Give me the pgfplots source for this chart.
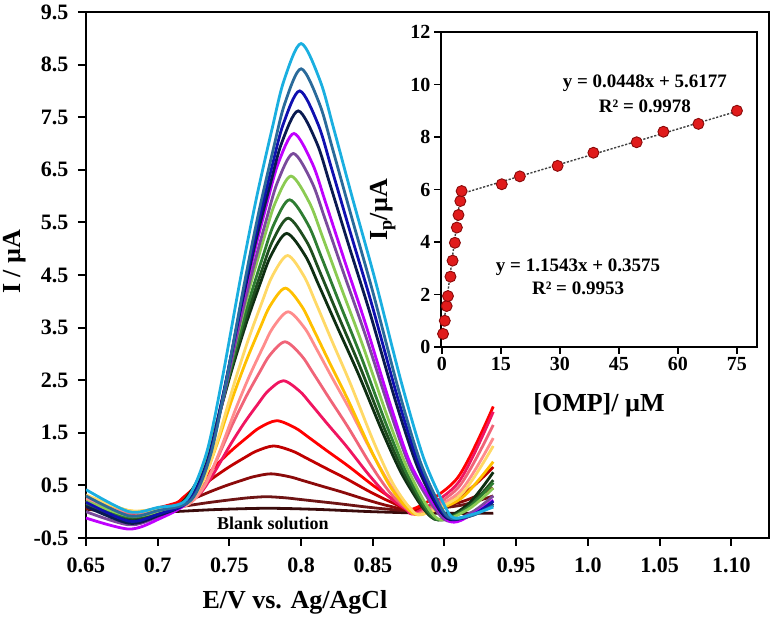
\documentclass[border=0pt]{standalone}
\usepackage{fontspec}
\setmainfont{Liberation Serif}
\usepackage{pgfplots}
\pgfplotsset{compat=1.18}
\definecolor{c1}{HTML}{3B0B0B}
\definecolor{c2}{HTML}{6E1414}
\definecolor{c3}{HTML}{8B0A0A}
\definecolor{c4}{HTML}{C00000}
\definecolor{c5}{HTML}{FF0000}
\definecolor{c6}{HTML}{F01560}
\definecolor{c7}{HTML}{F06478}
\definecolor{c8}{HTML}{FF8C8C}
\definecolor{c9}{HTML}{FFC000}
\definecolor{c10}{HTML}{FFD966}
\definecolor{c11}{HTML}{0E2E12}
\definecolor{c12}{HTML}{1F4E1F}
\definecolor{c13}{HTML}{2E7D32}
\definecolor{c14}{HTML}{8BCB52}
\definecolor{c15}{HTML}{7A4A9C}
\definecolor{c16}{HTML}{C000FF}
\definecolor{c17}{HTML}{0A1A50}
\definecolor{c18}{HTML}{1010B0}
\definecolor{c19}{HTML}{2A6A9A}
\definecolor{c20}{HTML}{1AAFE0}
\definecolor{mk}{HTML}{E01B1B}
\definecolor{mkd}{HTML}{8A0A0A}
\begin{document}
\begin{tikzpicture}
\path[use as bounding box] (-86pt,-80pt) rectangle (688pt,538pt);
\begin{axis}[
  at={(0pt,0pt)}, anchor=south west,
  scale only axis, width=683pt, height=526pt,
  xmin=0.65, xmax=1.1263, ymin=-0.5, ymax=9.5,
  axis line style={line width=2.4pt},
  tick style={line width=2pt, black},
  tick align=outside, major tick length=8pt,
  xtick pos=left, ytick pos=left,
  xtick={0.65,0.7,0.75,0.8,0.85,0.9,0.95,1.0,1.05,1.10},
  xticklabels={0.65,0.7,0.75,0.8,0.85,0.9,0.95,1.0,1.05,1.10},
  ytick={-0.5,0.5,1.5,2.5,3.5,4.5,5.5,6.5,7.5,8.5,9.5},
  yticklabels={-0.5,0.5,1.5,2.5,3.5,4.5,5.5,6.5,7.5,8.5,9.5},
  tick label style={font=\bfseries\fontsize{22}{22}\selectfont},
  yticklabel style={xshift=-6pt},
  xticklabel style={yshift=-8pt},
  xlabel={E/V vs. Ag/AgCl},
  xlabel style={at={(axis description cs:0.306,-0.1331)}, anchor=base, font=\bfseries\fontsize{26}{26}\selectfont},
  ylabel={I / µA},
  ylabel style={at={(axis description cs:-0.0952,0.525)}, anchor=base, font=\bfseries\fontsize{26}{26}\selectfont},
  every axis plot/.append style={line width=2.8pt, smooth},
  clip=true,
]
\addplot[c1] coordinates {(0.65,0.05)(0.68,-0.03)(0.71,0.0)(0.74,0.04)(0.776,0.065)(0.81,0.045)(0.85,0.0)(0.89,-0.03)(0.934,-0.03)};
\addplot[c2] coordinates {(0.65,0.06)(0.68,-0.03)(0.704,0.064)(0.710,0.078)(0.721,0.116)(0.734,0.168)(0.745,0.207)(0.756,0.243)(0.764,0.266)(0.776,0.285)(0.789,0.264)(0.798,0.237)(0.811,0.198)(0.826,0.153)(0.844,0.094)(0.859,0.052)(0.878,0.02)(0.911,0.12)(0.934,0.30)};
\addplot[c3] coordinates {(0.65,0.07)(0.68,-0.03)(0.707,0.090)(0.713,0.130)(0.724,0.238)(0.737,0.385)(0.748,0.499)(0.759,0.599)(0.767,0.666)(0.779,0.72)(0.792,0.664)(0.801,0.594)(0.814,0.489)(0.829,0.37)(0.847,0.216)(0.862,0.104)(0.878,0.03)(0.911,0.18)(0.934,0.45)};
\addplot[c4] coordinates {(0.65,0.08)(0.68,-0.03)(0.709,0.122)(0.715,0.194)(0.726,0.386)(0.739,0.65)(0.750,0.854)(0.761,1.034)(0.769,1.154)(0.781,1.25)(0.794,1.152)(0.803,1.029)(0.816,0.844)(0.831,0.635)(0.849,0.364)(0.864,0.168)(0.878,0.04)(0.911,0.30)(0.934,0.85)};
\addplot[c5] coordinates {(0.65,0.10)(0.68,-0.03)(0.711,0.151)(0.717,0.252)(0.728,0.520)(0.741,0.89)(0.752,1.176)(0.763,1.428)(0.771,1.596)(0.783,1.73)(0.796,1.592)(0.805,1.419)(0.818,1.159)(0.833,0.865)(0.851,0.484)(0.866,0.208)(0.878,0.05)(0.909,0.64)(0.934,2.0)};
\addplot[c6] coordinates {(0.65,0.15)(0.68,-0.05)(0.70,0.0)(0.7172,0.099)(0.7295,0.343)(0.7392,0.733)(0.7506,1.27)(0.7603,1.685)(0.7700,2.051)(0.7770,2.295)(0.7876,2.49)(0.7990,2.291)(0.8070,2.042)(0.8184,1.668)(0.8316,1.245)(0.8474,0.697)(0.8606,0.299)(0.873,0.05)(0.880,-0.02)(0.9097,0.556)(0.934,1.9)};
\addplot[c7] coordinates {(0.65,0.20)(0.68,-0.02)(0.70,0.02)(0.7184,0.114)(0.7307,0.432)(0.7404,0.940)(0.7518,1.64)(0.7615,2.181)(0.7712,2.658)(0.7782,2.976)(0.7888,3.23)(0.8002,2.97)(0.8082,2.645)(0.8196,2.158)(0.8328,1.605)(0.8486,0.89)(0.8618,0.37)(0.8742,0.045)(0.882,-0.03)(0.9101,0.474)(0.934,1.65)};
\addplot[c8] coordinates {(0.65,0.25)(0.68,0.0)(0.70,0.03)(0.7206,0.125)(0.7329,0.50)(0.7426,1.10)(0.754,1.925)(0.7637,2.563)(0.7734,3.125)(0.7804,3.50)(0.791,3.80)(0.8024,3.494)(0.8104,3.112)(0.8218,2.539)(0.835,1.89)(0.8508,1.05)(0.864,0.438)(0.8764,0.056)(0.883,-0.04)(0.9111,0.392)(0.934,1.4)};
\addplot[c9] coordinates {(0.65,0.30)(0.68,0.02)(0.70,0.05)(0.7186,0.134)(0.7309,0.554)(0.7406,1.226)(0.752,2.15)(0.7617,2.864)(0.7714,3.494)(0.7784,3.914)(0.789,4.25)(0.8004,3.908)(0.8084,3.48)(0.8198,2.838)(0.833,2.11)(0.8488,1.168)(0.862,0.484)(0.8744,0.056)(0.884,-0.05)(0.9115,0.25)(0.934,0.95)};
\addplot[c10] coordinates {(0.65,0.32)(0.68,0.02)(0.70,0.06)(0.7202,0.146)(0.7325,0.628)(0.7422,1.40)(0.7536,2.46)(0.7633,3.279)(0.7730,4.002)(0.7800,4.484)(0.7906,4.87)(0.802,4.478)(0.810,3.988)(0.8214,3.253)(0.8346,2.42)(0.8504,1.342)(0.8636,0.558)(0.876,0.068)(0.885,-0.05)(0.912,0.34)(0.934,1.25)};
\addplot[c11] coordinates {(0.65,0.10)(0.68,-0.15)(0.70,-0.05)(0.7164,0.155)(0.7293,0.679)(0.7394,1.517)(0.7514,2.67)(0.7615,3.561)(0.7716,4.347)(0.779,4.871)(0.790,5.29)(0.803,4.862)(0.812,4.327)(0.825,3.525)(0.840,2.615)(0.858,1.438)(0.873,0.582)(0.893,-0.14)(0.9158,0.127)(0.934,0.75)};
\addplot[c12] coordinates {(0.65,0.12)(0.68,-0.12)(0.70,-0.03)(0.7174,0.161)(0.7303,0.714)(0.7404,1.598)(0.7524,2.815)(0.7625,3.755)(0.7726,4.585)(0.780,5.138)(0.791,5.58)(0.804,5.129)(0.813,4.565)(0.826,3.719)(0.841,2.76)(0.859,1.519)(0.874,0.617)(0.893,-0.14)(0.9158,0.08)(0.934,0.6)};
\addplot[c13] coordinates {(0.65,0.15)(0.68,-0.10)(0.70,0.0)(0.7184,0.168)(0.7313,0.756)(0.7414,1.696)(0.7534,2.99)(0.7635,3.99)(0.7736,4.872)(0.781,5.46)(0.792,5.93)(0.805,5.451)(0.814,4.852)(0.827,3.953)(0.842,2.935)(0.860,1.617)(0.875,0.659)(0.894,-0.14)(0.916,0.067)(0.934,0.55)};
\addplot[c14] coordinates {(0.65,0.20)(0.68,-0.08)(0.70,0.0)(0.7194,0.177)(0.7323,0.81)(0.7424,1.822)(0.7544,3.215)(0.7645,4.291)(0.7746,5.241)(0.782,5.874)(0.793,6.38)(0.806,5.865)(0.815,5.221)(0.828,4.255)(0.843,3.16)(0.861,1.743)(0.876,0.713)(0.895,-0.13)(0.9165,0.044)(0.934,0.45)};
\addplot[c15] coordinates {(0.65,0.0)(0.68,-0.25)(0.70,-0.10)(0.721,0.185)(0.7339,0.861)(0.744,1.943)(0.756,3.43)(0.7661,4.579)(0.7762,5.593)(0.7836,6.269)(0.7946,6.81)(0.8076,6.26)(0.8166,5.573)(0.8296,4.543)(0.8446,3.375)(0.8626,1.864)(0.8776,0.764)(0.900,-0.15)(0.9187,-0.015)(0.934,0.30)};
\addplot[c16] coordinates {(0.65,-0.12)(0.68,-0.33)(0.70,-0.15)(0.7214,0.193)(0.7343,0.907)(0.7444,2.049)(0.7564,3.62)(0.7665,4.834)(0.7766,5.905)(0.784,6.619)(0.795,7.19)(0.808,6.61)(0.817,5.885)(0.830,4.798)(0.845,3.565)(0.863,1.97)(0.878,0.81)(0.902,-0.16)(0.9196,-0.046)(0.934,0.22)};
\addplot[c17] coordinates {(0.65,0.10)(0.68,-0.22)(0.70,-0.08)(0.7212,0.201)(0.7346,0.958)(0.7452,2.17)(0.7577,3.835)(0.7682,5.122)(0.7788,6.257)(0.7865,7.014)(0.798,7.62)(0.811,7.006)(0.820,6.238)(0.833,5.086)(0.848,3.78)(0.866,2.09)(0.881,0.862)(0.895,0.094)(0.904,-0.15)(0.9205,-0.06)(0.934,0.15)};
\addplot[c18] coordinates {(0.65,0.18)(0.68,-0.18)(0.70,-0.05)(0.7222,0.209)(0.7356,1.004)(0.7462,2.276)(0.7587,4.025)(0.7692,5.377)(0.7798,6.569)(0.7875,7.364)(0.799,8.0)(0.812,7.355)(0.821,6.549)(0.834,5.34)(0.849,3.97)(0.867,2.197)(0.882,0.907)(0.896,0.101)(0.905,-0.14)(0.921,-0.04)(0.934,0.20)};
\addplot[c19] coordinates {(0.65,0.30)(0.68,-0.08)(0.70,0.02)(0.7232,0.217)(0.7366,1.054)(0.7472,2.394)(0.7597,4.235)(0.7702,5.658)(0.7808,6.913)(0.7885,7.75)(0.800,8.42)(0.813,7.742)(0.822,6.894)(0.835,5.622)(0.850,4.18)(0.868,2.314)(0.883,0.958)(0.897,0.11)(0.905,-0.13)(0.921,-0.055)(0.934,0.12)};
\addplot[c20] coordinates {(0.65,0.42)(0.68,0.0)(0.70,0.08)(0.720,0.227)(0.734,1.112)(0.745,2.528)(0.758,4.475)(0.769,5.98)(0.780,7.307)(0.788,8.192)(0.800,8.9)(0.8134,8.183)(0.8227,7.287)(0.836,5.943)(0.8515,4.42)(0.870,2.449)(0.8855,1.015)(0.900,0.119)(0.907,-0.12)(0.922,-0.03)(0.934,0.09)};
\node[font=\bfseries\fontsize{18}{18}\selectfont] at (axis cs:0.7804,-0.215) {Blank solution};
\end{axis}
\begin{axis}[
  at={(355pt,191pt)}, anchor=south west,
  scale only axis, width=316pt, height=315pt,
  xmin=-0.25, xmax=80.1, ymin=0, ymax=12,
  axis background/.style={fill=white},
  axis line style={line width=2.2pt},
  tick style={line width=1.8pt, black},
  tick align=outside, major tick length=7pt,
  xtick pos=left, ytick pos=left,
  xtick={0,15,30,45,60,75}, xticklabels={0,15,30,45,60,75},
  ytick={0,2,4,6,8,10,12}, yticklabels={0,2,4,6,8,10,12},
  tick label style={font=\bfseries\fontsize{20}{20}\selectfont},
  xlabel={\relax[OMP]/ µM},
  xlabel style={at={(axis description cs:0.5,-0.2032)}, anchor=base, font=\bfseries\fontsize{26}{26}\selectfont},
  ylabel={I\textsubscript{p}/µA},
  ylabel style={at={(axis description cs:-0.168,0.435)}, anchor=base, font=\bfseries\fontsize{26}{26}\selectfont},
  clip=false,
]
\addplot[black!75, line width=1.4pt, dash pattern=on 2.2pt off 1.6pt] coordinates {(0,0.3575)(4.9,6.014)};
\addplot[black!75, line width=1.4pt, dash pattern=on 2.2pt off 1.6pt] coordinates {(4.9,5.837)(75,8.978)};
\addplot[only marks, mark=*, mark size=5.5pt, mark options={fill=mk, draw=mkd, line width=0.9pt}] coordinates {
(0.27,0.5)(0.71,1.0)(1.19,1.56)(1.52,1.94)(2.16,2.68)(2.69,3.29)(3.28,3.97)(3.78,4.55)(4.2,5.03)(4.66,5.56)(4.99,5.94)
(15.2,6.2)(19.8,6.5)(29.4,6.9)(38.5,7.4)(49.5,7.8)(56.3,8.2)(65.2,8.5)(75,9.0)};
\node[font=\bfseries\fontsize{19}{19}\selectfont] at (axis cs:51.6,10.06) {y = 0.0448x + 5.6177};
\node[font=\bfseries\fontsize{19}{19}\selectfont] at (axis cs:51.6,9.18) {R² = 0.9978};
\node[font=\bfseries\fontsize{19}{19}\selectfont] at (axis cs:34.6,3.05) {y = 1.1543x + 0.3575};
\node[font=\bfseries\fontsize{19}{19}\selectfont] at (axis cs:34.6,2.25) {R² = 0.9953};
\end{axis}
\end{tikzpicture}
\end{document}
